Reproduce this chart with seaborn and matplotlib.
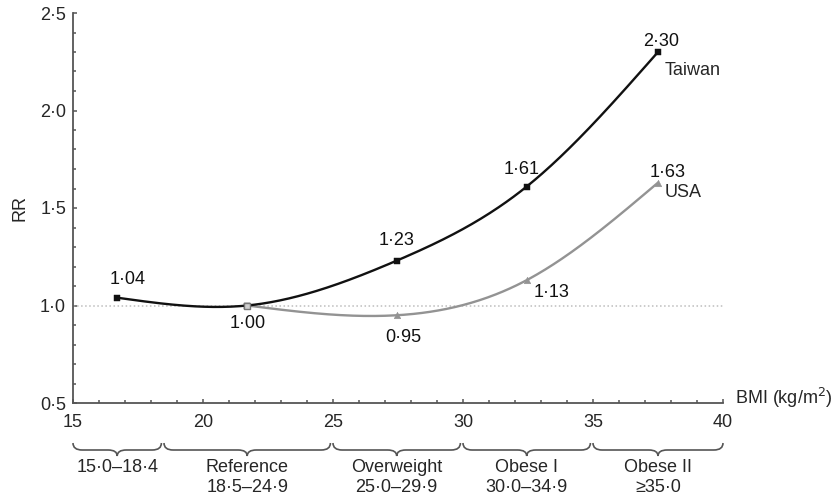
import numpy as np
import pandas as pd
import matplotlib
matplotlib.use("Agg")
import matplotlib.pyplot as plt
import seaborn as sns
from matplotlib.path import Path
from matplotlib.patches import PathPatch
from matplotlib import transforms
from matplotlib.ticker import MultipleLocator, FuncFormatter

# Dati
taiwan_bmi = [16.7, 21.7, 27.45, 32.45, 37.5]
taiwan_rr = [1.04, 1.00, 1.23, 1.61, 2.30]
taiwan_labels = ["1·04", "1·00", "1·23", "1·61", "2·30"]

usa_bmi = [21.7, 27.45, 32.45, 37.5]
usa_rr = [1.00, 0.95, 1.13, 1.63]
usa_labels = ["", "0·95", "1·13", "1·63"]

group_lo = [15.0, 18.5, 25.0, 30.0, 35.0]
group_hi = [18.4, 24.9, 29.9, 34.9, 40.0]
group_names = ["15·0–18·4", "Reference", "Overweight", "Obese I", "Obese II"]
group_ranges = ["", "18·5–24·9", "25·0–29·9", "30·0–34·9", "≥35·0"]

# offset etichette (pixel)
taiwan_offsets = [(10, 18), (0, -18), (0, 20), (-5, 17), (3, 11)]
usa_offsets = [(0, 0), (7, -22), (25, -12), (10, 10)]

sns.set_style("ticks")
plt.rcParams['font.family'] = ['Liberation Sans', 'DejaVu Sans']
plt.rcParams['font.size'] = 13


def natural_spline(x, y, n=300):
    """Spline cubica naturale per disegnare la curva liscia"""
    x = np.asarray(x, float)
    y = np.asarray(y, float)
    k = len(x)
    h = np.diff(x)
    A = np.zeros((k, k))
    b = np.zeros(k)
    A[0, 0] = A[-1, -1] = 1
    for i in range(1, k - 1):
        A[i, i - 1] = h[i - 1]
        A[i, i] = 2 * (h[i - 1] + h[i])
        A[i, i + 1] = h[i]
        b[i] = 6 * ((y[i + 1] - y[i]) / h[i] - (y[i] - y[i - 1]) / h[i - 1])
    M = np.linalg.solve(A, b)
    xs = np.linspace(x[0], x[-1], n)
    idx = np.clip(np.searchsorted(x, xs) - 1, 0, k - 2)
    x0, x1 = x[idx], x[idx + 1]
    hh = x1 - x0
    ys = (M[idx] * (x1 - xs) ** 3 / (6 * hh) + M[idx + 1] * (xs - x0) ** 3 / (6 * hh)
          + (y[idx] / hh - M[idx] * hh / 6) * (x1 - xs)
          + (y[idx + 1] / hh - M[idx + 1] * hh / 6) * (xs - x0))
    return xs, ys


fig = plt.figure(figsize=(8.34, 5.0), dpi=100)
ax = fig.add_axes([73 / 834, 97 / 500, 650 / 834, 390 / 500])

# linea di riferimento RR = 1
ax.axhline(1.0, color='#bdbdbd', linestyle=':', linewidth=1.1, zorder=1)

# curve lisce
xs, ys = natural_spline(taiwan_bmi, taiwan_rr)
sns.lineplot(x=xs, y=ys, ax=ax, color='#111111', linewidth=1.7, zorder=3)
xs, ys = natural_spline(usa_bmi, usa_rr)
sns.lineplot(x=xs, y=ys, ax=ax, color='#939393', linewidth=1.7, zorder=2)

# marker
sns.scatterplot(x=usa_bmi[1:], y=usa_rr[1:], ax=ax, marker='^', s=22,
                color='#939393', edgecolor='#939393', zorder=4)
sns.scatterplot(x=taiwan_bmi, y=taiwan_rr, ax=ax, marker='s', s=16,
                color='#111111', edgecolor='#111111', zorder=5)
sns.scatterplot(x=usa_bmi[:1], y=usa_rr[:1], ax=ax, marker='s', s=22,
                color='#d0d0d0', edgecolor='#777777', linewidth=1, zorder=6)

# etichette valori
for x, y, lab, (dx, dy) in zip(taiwan_bmi, taiwan_rr, taiwan_labels, taiwan_offsets):
    ax.annotate(lab, (x, y), xytext=(dx * 0.72, dy * 0.72), textcoords='offset points',
                ha='center', va='center', fontsize=13, color='#111111')
for x, y, lab, (dx, dy) in zip(usa_bmi, usa_rr, usa_labels, usa_offsets):
    if lab:
        ax.annotate(lab, (x, y), xytext=(dx * 0.72, dy * 0.72), textcoords='offset points',
                    ha='center', va='center', fontsize=13, color='#111111')

ax.annotate("Taiwan", (taiwan_bmi[-1], taiwan_rr[-1]), xytext=(7 * 0.72, -18 * 0.72),
            textcoords='offset points', ha='left', va='center', fontsize=13)
ax.annotate("USA", (usa_bmi[-1], usa_rr[-1]), xytext=(7 * 0.72, -10 * 0.72),
            textcoords='offset points', ha='left', va='center', fontsize=13)

# assi
ax.set_xlim(15, 40)
ax.set_ylim(0.5, 2.5)
sns.despine(ax=ax)
for sp in ['left', 'bottom']:
    ax.spines[sp].set_color('#555555')
    ax.spines[sp].set_linewidth(1.3)
ax.xaxis.set_major_locator(MultipleLocator(5))
ax.xaxis.set_minor_locator(MultipleLocator(1))
ax.yaxis.set_major_locator(MultipleLocator(0.5))
ax.yaxis.set_minor_locator(MultipleLocator(0.1))
ax.yaxis.set_major_formatter(FuncFormatter(lambda v, p: f"{v:.1f}".replace('.', '·')))
ax.tick_params(which='both', direction='in', color='#555555', width=1.1)
ax.tick_params(which='major', length=3, labelsize=13, pad=5)
ax.tick_params(axis='x', which='major', pad=8)
ax.tick_params(which='minor', length=2.5)
ax.set_ylabel("RR", fontsize=13, labelpad=8)
ax.set_xlabel("")
fig.text(735 / 834, (500 - 398) / 500, "BMI (kg/m$^2$)", ha='left', va='center', fontsize=13)

# parentesi graffe per le categorie BMI
trans = transforms.blended_transform_factory(ax.transData, fig.transFigure)
top, mid, tip, r = 0.114, 0.100, 0.088, 0.35
for lo, hi, name, rng in zip(group_lo, group_hi, group_names, group_ranges):
    xc = (lo + hi) / 2
    verts = [(lo, top), (lo, mid), (lo + r, mid), (xc - r, mid), (xc, mid), (xc, tip),
             (xc, mid), (xc + r, mid), (hi - r, mid), (hi, mid), (hi, top)]
    codes = [Path.MOVETO, Path.CURVE3, Path.CURVE3, Path.LINETO, Path.CURVE3, Path.CURVE3,
             Path.CURVE3, Path.CURVE3, Path.LINETO, Path.CURVE3, Path.CURVE3]
    patch = PathPatch(Path(verts, codes), transform=trans, fill=False,
                      edgecolor='#555555', linewidth=1.2, clip_on=False)
    fig.add_artist(patch)
    fig.text(0, 0.066, name, transform=trans, ha='center', va='center', fontsize=13)
    fig.texts[-1].set_x(xc)
    if rng:
        fig.text(0, 0.024, rng, transform=trans, ha='center', va='center', fontsize=13)
        fig.texts[-1].set_x(xc)

fig.savefig("out.png", dpi=100)
plt.close(fig)
